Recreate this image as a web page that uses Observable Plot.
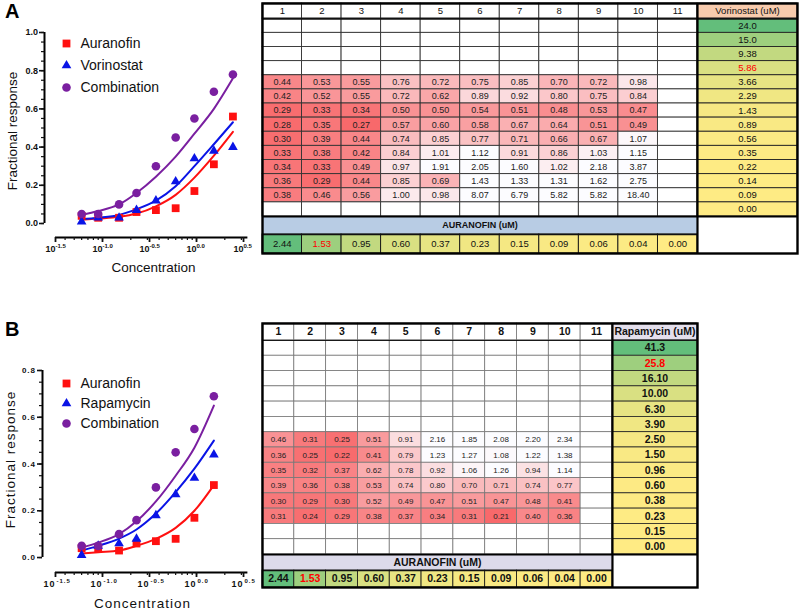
<!DOCTYPE html>
<html><head><meta charset="utf-8">
<script src="https://cdn.jsdelivr.net/npm/d3@7"></script>
<script src="https://cdn.jsdelivr.net/npm/@observablehq/plot@0.6"></script>
<style>
html,body{margin:0;padding:0;background:#fff}
body{width:800px;height:609px;position:relative;overflow:hidden;font-family:"Liberation Sans",Arial,sans-serif}
.abs{position:absolute}
.plbl{position:absolute;font-weight:bold;font-size:20px;line-height:20px}
svg{overflow:visible}
</style></head><body>
<div id="curveA" class="abs" style="left:0;top:0"></div>
<div id="legA" class="abs" style="left:58px;top:31px"></div>
<div id="tableA" class="abs" style="left:260px;top:1px"></div>
<div id="curveB" class="abs" style="left:0;top:305px"></div>
<div id="legB" class="abs" style="left:58px;top:372px"></div>
<div id="tableB" class="abs" style="left:260px;top:321px"></div>
<div class="plbl" style="left:5px;top:1px">A</div>
<div class="plbl" style="left:5px;top:319px">B</div>
<script>
// ---------------- DATA ----------------
// Panel A dose-response
const concA = [0.06, 0.09, 0.15, 0.23, 0.37, 0.60, 0.95, 1.53, 2.44];
const seriesA = ["Auranofin", "Vorinostat", "Combination"];
const respA_aur = [0.04, 0.03, 0.03, 0.06, 0.07, 0.08, 0.17, 0.31, 0.56];
const respA_vor = [0.01, 0.03, 0.03, 0.07, 0.12, 0.22, 0.34, 0.38, 0.40];
const respA_comb = [0.05, 0.05, 0.10, 0.16, 0.30, 0.45, 0.55, 0.69, 0.78];
const fitA_aur = [0.020, 0.026, 0.035, 0.052, 0.090, 0.150, 0.240, 0.355, 0.480];
const fitA_vor = [0.022, 0.030, 0.045, 0.075, 0.120, 0.195, 0.300, 0.415, 0.530];
const fitA_comb = [0.045, 0.065, 0.100, 0.160, 0.245, 0.350, 0.470, 0.600, 0.760];

// Panel B dose-response
const concB = [0.06, 0.09, 0.15, 0.23, 0.37, 0.60, 0.95, 1.53];
const seriesB = ["Auranofin", "Rapamycin", "Combination"];
const respB_aur = [0.04, 0.04, 0.03, 0.06, 0.07, 0.08, 0.17, 0.31];
const respB_rap = [0.01, 0.05, 0.06, 0.08, 0.18, 0.27, 0.34, 0.44];
const respB_comb = [0.05, 0.05, 0.10, 0.16, 0.30, 0.45, 0.55, 0.69];
const fitB_aur = [0.017, 0.023, 0.030, 0.050, 0.080, 0.127, 0.200, 0.310];
const fitB_rap = [0.030, 0.050, 0.081, 0.120, 0.188, 0.280, 0.380, 0.500];
const fitB_comb = [0.043, 0.064, 0.100, 0.155, 0.240, 0.350, 0.470, 0.650];

// axes
const xMajor = [Math.pow(10,-1.5), 0.1, Math.pow(10,-0.5), 1, Math.pow(10,0.5)];
const xMajorExp = ["-1.5", "-1.0", "-0.5", "0.0", "0.5"];
const yTicksA = [0, 0.2, 0.4, 0.6, 0.8, 1.0];
const yTicksB = [0, 0.2, 0.4, 0.6, 0.8];

// Table A
const colLabels = ["1","2","3","4","5","6","7","8","9","10","11"];
const vorName = "Vorinostat (uM)";
const vorConc = ["24.0","15.0","9.38","5.86","3.66","2.29","1.43","0.89","0.56","0.35","0.22","0.14","0.09","0.00"];
const vorRedIdx = 3;
const heatA_firstRow = 4;
const heatA = [
  [0.44,0.53,0.55,0.76,0.72,0.75,0.85,0.70,0.72,0.98],
  [0.42,0.52,0.55,0.72,0.62,0.89,0.92,0.80,0.75,0.84],
  [0.29,0.33,0.34,0.50,0.50,0.54,0.51,0.48,0.53,0.47],
  [0.28,0.35,0.27,0.57,0.60,0.58,0.67,0.64,0.51,0.49],
  [0.30,0.39,0.44,0.74,0.85,0.77,0.71,0.66,0.67,1.07],
  [0.33,0.38,0.42,0.84,1.01,1.12,0.91,0.86,1.03,1.15],
  [0.34,0.33,0.49,0.97,1.91,2.05,1.60,1.02,2.18,3.87],
  [0.36,0.29,0.44,0.85,0.69,1.43,1.33,1.31,1.62,2.75],
  [0.38,0.46,0.56,1.00,0.98,8.07,6.79,5.82,5.82,18.40]
];
const aurLabel = "AURANOFIN (uM)";
const aurConc = ["2.44","1.53","0.95","0.60","0.37","0.23","0.15","0.09","0.06","0.04","0.00"];
const aurRedIdx = 1;

// Table B
const rapName = "Rapamycin (uM)";
const rapConc = ["41.3","25.8","16.10","10.00","6.30","3.90","2.50","1.50","0.96","0.60","0.38","0.23","0.15","0.00"];
const rapRedIdx = 1;
const heatB_firstRow = 6;
const heatB = [
  [0.46,0.31,0.25,0.51,0.91,2.16,1.85,2.08,2.20,2.34],
  [0.36,0.25,0.22,0.41,0.79,1.23,1.27,1.08,1.22,1.38],
  [0.35,0.32,0.37,0.62,0.78,0.92,1.06,1.26,0.94,1.14],
  [0.39,0.36,0.38,0.53,0.74,0.80,0.70,0.71,0.74,0.77],
  [0.30,0.29,0.30,0.52,0.49,0.47,0.51,0.47,0.48,0.41],
  [0.31,0.24,0.29,0.38,0.37,0.34,0.31,0.21,0.40,0.36]
];

// ---------------- CURVE PLOTS ----------------
const seriesColors = ["#ff1010", "#0a14e6", "#7a1fa0"];
const symbols = ["square", "triangle", "circle"];
const symR = [4.4, 3.6, 4.3];

function curvePlot(o) {
  const pts = [], fits = [];
  o.series.forEach((s, i) => {
    o.resp[i].forEach((v, j) => pts.push({series: s, conc: o.conc[j], resp: v}));
    o.fit[i].forEach((v, j) => fits.push({series: s, conc: o.conc[j], resp: v}));
  });
  const minorY = d3.range(0, o.yMax + 1e-9, 0.05).map(v => +v.toFixed(2));
  const minorX = [];
  for (const d of [0.01, 0.1, 1]) for (let k = 1; k < 10; k++) {
    const v = d * k; if (v >= xMajor[0] && v <= xMajor[4]) minorX.push(v);
  }
  const ls = o.letterSpacing || 0;
  const marks = [
    Plot.ruleY([o.yMin], {x1: xMajor[0], x2: o.xMax * 0.985, stroke: "#000", strokeWidth: 2}),
    Plot.ruleX([o.xMin], {y1: 0, y2: o.yMax, stroke: "#000", strokeWidth: 2}),
    Plot.axisY({ticks: minorY, tickSize: 3, text: null, label: null, strokeWidth: 1.2}),
    Plot.axisY({ticks: o.yTicks, tickSize: 5, tickPadding: 1.5, label: null, tickFormat: d => d.toFixed(1), fontSize: o.yFont, fontWeight: "bold", strokeWidth: 1.6}),
    Plot.axisX({ticks: minorX, tickSize: 3, text: null, label: null, strokeWidth: 1.2}),
    Plot.axisX({ticks: xMajor, tickSize: 5, text: null, label: null, strokeWidth: 1.8}),
    Plot.text(xMajor, {x: d => d, frameAnchor: "bottom", dy: 14, text: () => "10", textAnchor: "end", fontSize: 9, fontWeight: "bold"}),
    Plot.text(xMajor, {x: d => d, frameAnchor: "bottom", dy: 10, text: (d, i) => xMajorExp[i], textAnchor: "start", dx: ls, fontSize: 6, fontWeight: "bold"}),
    Plot.text(["Fractional response"], {frameAnchor: "left", textAnchor: "middle", rotate: -90, dx: o.ytDx, dy: o.ytDy, fontSize: 13.5}),
    Plot.text(["Concentration"], {frameAnchor: "bottom", textAnchor: "middle", dy: o.xtDy, dx: o.xtDx, fontSize: 13.5}),
    ...o.series.map((s, i) => Plot.line(fits.filter(d => d.series === s), {x: "conc", y: "resp", stroke: seriesColors[i], strokeWidth: 2, curve: "monotone-x"})),
    ...o.series.map((s, i) => Plot.dot(pts.filter(d => d.series === s), {x: "conc", y: "resp", fill: seriesColors[i], symbol: symbols[i], r: symR[i], stroke: "none"}))
  ];
  const svg = Plot.plot({
    width: o.width, height: o.height,
    marginLeft: o.marginLeft, marginRight: o.width - o.xRangeEnd, marginTop: o.marginTop, marginBottom: o.marginBottom,
    x: {type: "log", domain: [o.xMin, o.xMax], axis: null},
    y: {domain: [o.yMin, o.yMax], axis: null},
    style: {fontFamily: "'Liberation Sans', Arial, sans-serif", color: "#111", overflow: "visible", background: "transparent", letterSpacing: ls + "px"},
    marks
  });
  document.getElementById(o.el).appendChild(svg);
}

// A: y=0 at 223px, y=1 at 32px, x axis at 237px; 10^-1.5 at x=55, ~94px/decade
curvePlot({
  el: "curveA", conc: concA, series: seriesA,
  resp: [respA_aur, respA_vor, respA_comb], fit: [fitA_aur, fitA_vor, fitA_comb],
  width: 262, height: 280, marginLeft: 44, xRangeEnd: 248, marginTop: 32, marginBottom: 43,
  xMin: Math.pow(10, -1.617), xMax: Math.pow(10, 0.553),
  yMin: -0.0733, yMax: 1.0, yTicks: yTicksA, yFont: 9,
  ytDx: -32, ytDy: -4, xtDx: 7, xtDy: 34
});
// B: y=0 at 252px, 0.8 at 65px, x axis at 267px
curvePlot({
  el: "curveB", conc: concB, series: seriesB,
  resp: [respB_aur, respB_rap, respB_comb], fit: [fitB_aur, fitB_rap, fitB_comb],
  width: 262, height: 304, marginLeft: 42, xRangeEnd: 248, marginTop: 65, marginBottom: 37,
  xMin: Math.pow(10, -1.638), xMax: Math.pow(10, 0.553),
  yMin: -0.064, yMax: 0.8, yTicks: yTicksB, yFont: 8, letterSpacing: 1,
  ytDx: -32, ytDy: -12, xtDx: -3, xtDy: 35
});

// ---------------- LEGENDS ----------------
function legend(el, names, height, m) {
  const svg = Plot.plot({
    width: 130, height, marginTop: m, marginBottom: m, marginLeft: 0, marginRight: 0,
    x: {domain: [0, 1], axis: null},
    y: {type: "point", domain: names, padding: 0, axis: null},
    symbol: {domain: names, range: symbols},
    color: {domain: names, range: seriesColors},
    style: {fontFamily: "'Liberation Sans', Arial, sans-serif", overflow: "visible", background: "transparent"},
    marks: [
      ...names.map((n, i) => Plot.dot([n], {y: d => d, frameAnchor: "left", dx: 8, symbol: d => d, fill: d => d, r: symR[i]})),
      Plot.text(names, {y: d => d, frameAnchor: "left", dx: 22, text: d => d, textAnchor: "start", fontSize: 14, fill: "#111"})
    ]
  });
  document.getElementById(el).appendChild(svg);
}
legend("legA", seriesA, 67, 11);
legend("legB", seriesB, 61, 10);

// ---------------- TABLES ----------------
function heatColor(min) {
  return Plot.scale({color: {type: "linear", domain: [min, 1.1], range: ["#f8696b", "#fcfcff"], clamp: true}});
}
const gy = max => Plot.scale({color: {type: "linear", domain: [0, max], range: ["#ffeb84", "#63be7b"]}});

function table(o) {
  const nCol = colLabels.length, W = o.drugW;
  const rowH = [o.hHeader, ...d3.range(o.drugConc.length).map(() => 1), o.hLabel, o.hAur];
  const cum = [0]; rowH.forEach(h => cum.push(cum[cum.length - 1] + h));
  const total = cum[cum.length - 1];
  const flat = o.heat.flat();
  const hs = heatColor(d3.min(flat));
  const gd = gy(d3.max(o.drugConc, d => +d));
  const ga = gy(d3.max(o.aurConc, d => +d));
  const cells = [], texts = [];
  // header
  colLabels.forEach((c, i) => {
    cells.push({x1: i, x2: i + 1, y1: cum[0], y2: cum[1], fill: "#fff", stroke: o.gridStroke});
    texts.push({x: i + 0.5, y: (cum[0] + cum[1]) / 2, t: c, fill: "#111", size: o.hdrFont, weight: o.hdrWeight});
  });
  cells.push({x1: nCol, x2: nCol + W, y1: cum[0], y2: cum[1], fill: o.drugHdrFill, stroke: "#222"});
  texts.push({x: nCol + W / 2, y: (cum[0] + cum[1]) / 2, t: o.drugName, fill: "#111", size: o.drugHdrFont, weight: o.hdrWeight});
  // grid + drug column
  o.drugConc.forEach((dc, r) => {
    const y1 = cum[r + 1], y2 = cum[r + 2];
    const hr = o.heat[r - o.heatFirst];
    for (let c = 0; c < nCol; c++) {
      const v = hr ? hr[c] : undefined;
      cells.push({x1: c, x2: c + 1, y1, y2, fill: v == null ? "#fff" : hs.apply(v), stroke: o.gridStroke});
      if (v != null) texts.push({x: c + 0.5, y: (y1 + y2) / 2, t: v.toFixed(2), fill: "#222", size: o.heatFont, weight: "normal"});
    }
    cells.push({x1: nCol, x2: nCol + W, y1, y2, fill: gd.apply(+dc), stroke: "#222"});
    texts.push({x: nCol + W / 2, y: (y1 + y2) / 2, t: dc, fill: r === o.drugRed ? "#ff0000" : "#111", size: o.concFont, weight: o.concWeight});
  });
  // label row
  const lr = o.drugConc.length + 1;
  cells.push({x1: 0, x2: nCol, y1: cum[lr], y2: cum[lr + 1], fill: o.labelFill, stroke: "none"});
  texts.push({x: nCol / 2, y: (cum[lr] + cum[lr + 1]) / 2, t: aurLabel, fill: "#111", size: o.labelFont, weight: "bold"});
  // auranofin row
  o.aurConc.forEach((a, c) => {
    cells.push({x1: c, x2: c + 1, y1: cum[lr + 1], y2: cum[lr + 2], fill: ga.apply(+a), stroke: "#111"});
    texts.push({x: c + 0.5, y: (cum[lr + 1] + cum[lr + 2]) / 2, t: a, fill: c === aurRedIdx ? "#ff0000" : "#111", size: o.aurFont, weight: o.concWeight});
  });
  cells.push({x1: nCol, x2: nCol + W, y1: cum[lr], y2: cum[lr + 2], fill: "#fff", stroke: "none"});

  const svg = Plot.plot({
    width: o.width, height: o.height,
    marginLeft: 2, marginRight: 3, marginTop: 2, marginBottom: 2,
    x: {domain: [0, nCol + W], axis: null},
    y: {domain: [0, total], reverse: true, axis: null},
    color: {type: "identity"},
    style: {fontFamily: "'Liberation Sans', Arial, sans-serif", overflow: "visible", background: "transparent"},
    marks: [
      Plot.rect(cells, {x1: "x1", x2: "x2", y1: "y1", y2: "y2", fill: "fill", stroke: "stroke", strokeWidth: o.gridWidth}),
      Plot.ruleY([cum[1]], {x1: 0, x2: nCol + W, stroke: "#111", strokeWidth: o.hdrLine}),
      Plot.ruleY([cum[lr]], {x1: 0, x2: nCol + W, stroke: "#000", strokeWidth: 2.2}),
      Plot.ruleY([cum[lr + 1]], {x1: 0, x2: nCol, stroke: "#111", strokeWidth: 1.4}),
      Plot.ruleX([nCol], {y1: 0, y2: total, stroke: "#000", strokeWidth: 2.2}),
      Plot.frame({stroke: "#000", strokeWidth: 2.4}),
      ...["normal", "bold"].map(w => Plot.text(texts.filter(d => d.weight === w), {x: "x", y: "y", text: "t", fill: "fill", fontSize: d => d.size, fontWeight: w}))
    ]
  });
  document.getElementById(o.el).appendChild(svg);
}

table({
  el: "tableA", width: 540, height: 254, drugW: 100 / 39.54,
  hHeader: 1.08, hLabel: 1.27, hAur: 1.35,
  drugName: vorName, drugConc: vorConc, drugRed: vorRedIdx, heat: heatA, heatFirst: heatA_firstRow,
  aurConc, drugHdrFill: "#f8cbad", labelFill: "#b8cce4",
  gridStroke: "#333", gridWidth: 0.9, hdrLine: 1.8,
  hdrFont: 9.5, hdrWeight: "normal", drugHdrFont: 9.5, heatFont: 9, concFont: 9.5, concWeight: "normal", aurFont: 9.5, labelFont: 9
});
table({
  el: "tableB", width: 440, height: 268, drugW: 85 / 31.8,
  hHeader: 1.11, hLabel: 1.05, hAur: 1.11,
  drugName: rapName, drugConc: rapConc, drugRed: rapRedIdx, heat: heatB, heatFirst: heatB_firstRow,
  aurConc, drugHdrFill: "#e4dfec", labelFill: "#dcdaea",
  gridStroke: "#777", gridWidth: 0.8, hdrLine: 1.0,
  hdrFont: 10.5, hdrWeight: "bold", drugHdrFont: 10.5, heatFont: 8, concFont: 10.5, concWeight: "bold", aurFont: 10.5, labelFont: 10.5
});
</script>
</body></html>
